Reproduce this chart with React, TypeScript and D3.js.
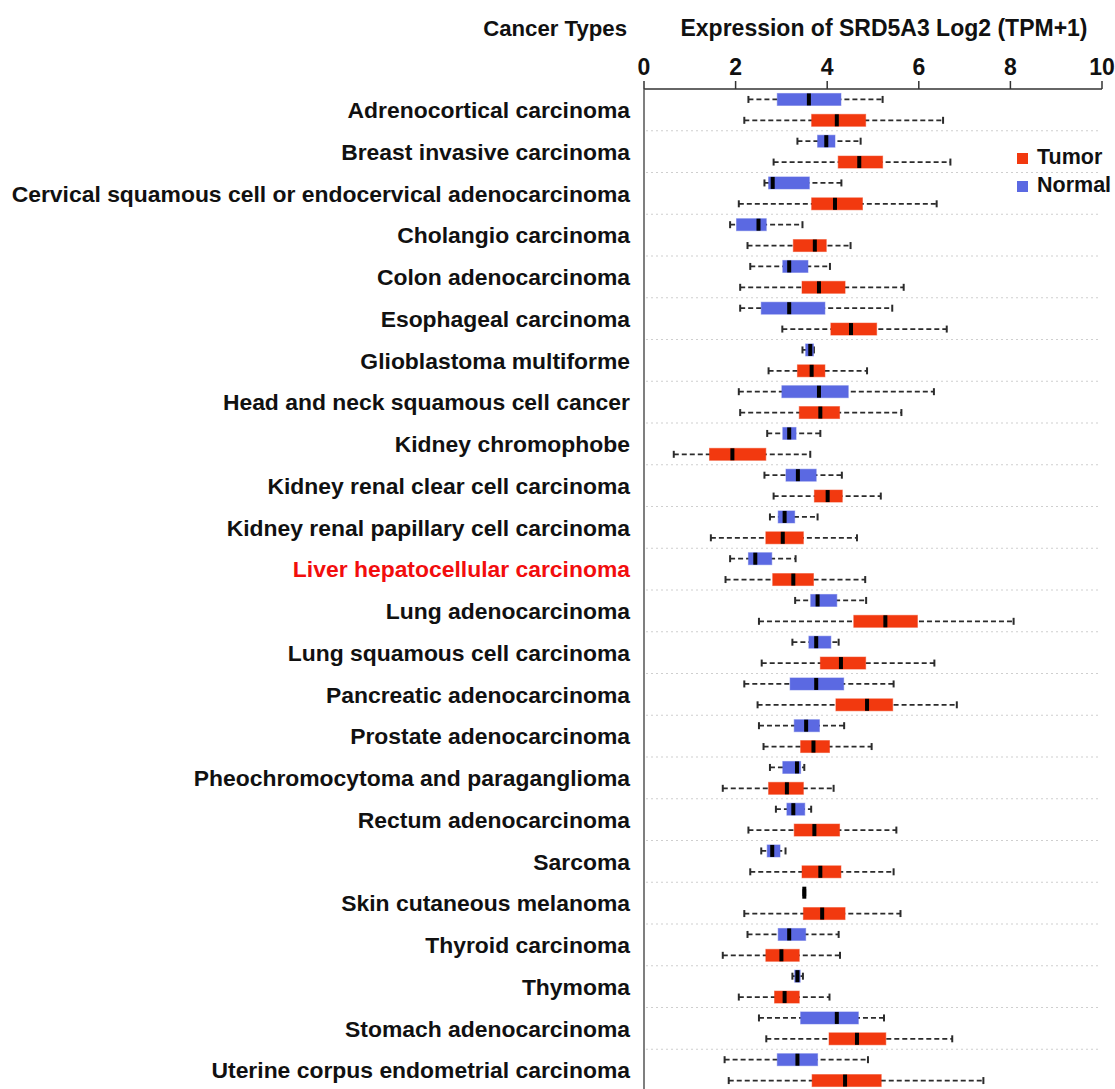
import { scaleBand, scaleLinear, scalePoint } from 'd3'

const categories = [
  'Adrenocortical carcinoma',
  'Breast invasive carcinoma',
  'Cervical squamous cell or endocervical adenocarcinoma',
  'Cholangio carcinoma',
  'Colon adenocarcinoma',
  'Esophageal carcinoma',
  'Glioblastoma multiforme',
  'Head and neck squamous cell cancer',
  'Kidney chromophobe',
  'Kidney renal clear cell carcinoma',
  'Kidney renal papillary cell carcinoma',
  'Liver hepatocellular carcinoma',
  'Lung adenocarcinoma',
  'Lung squamous cell carcinoma',
  'Pancreatic adenocarcinoma',
  'Prostate adenocarcinoma',
  'Pheochromocytoma and paraganglioma',
  'Rectum adenocarcinoma',
  'Sarcoma',
  'Skin cutaneous melanoma',
  'Thyroid carcinoma',
  'Thymoma',
  'Stomach adenocarcinoma',
  'Uterine corpus endometrial carcinoma',
]

const highlighted = 'Liver hepatocellular carcinoma'

// [lower whisker, q1, median, q3, upper whisker]
const normalStats = [
  [2.28, 2.91, 3.6, 4.3, 5.21],
  [3.35, 3.79, 3.98, 4.17, 4.73],
  [2.63, 2.72, 2.81, 3.61, 4.31],
  [1.88, 2.02, 2.5, 2.67, 3.46],
  [2.32, 3.03, 3.17, 3.58, 4.06],
  [2.1, 2.56, 3.17, 3.95, 5.42],
  [3.46, 3.53, 3.63, 3.7, 3.71],
  [2.07, 3.01, 3.82, 4.46, 6.33],
  [2.69, 3.03, 3.17, 3.32, 3.85],
  [2.63, 3.1, 3.36, 3.76, 4.32],
  [2.75, 2.93, 3.07, 3.29, 3.79],
  [1.88, 2.28, 2.43, 2.79, 3.31],
  [3.3, 3.64, 3.79, 4.21, 4.85],
  [3.24, 3.6, 3.76, 4.08, 4.25],
  [2.19, 3.19, 3.76, 4.36, 5.45],
  [2.51, 3.28, 3.54, 3.83, 4.37],
  [2.75, 3.03, 3.34, 3.42, 3.5],
  [2.88, 3.12, 3.26, 3.51, 3.65],
  [2.56, 2.69, 2.8, 2.97, 3.09],
  [3.48, 3.49, 3.5, 3.51, 3.52],
  [2.26, 2.93, 3.17, 3.53, 4.25],
  [3.24, 3.29, 3.35, 3.41, 3.47],
  [2.51, 3.42, 4.21, 4.68, 5.24],
  [1.76, 2.91, 3.35, 3.79, 4.89],
]

const tumorStats = [
  [2.19, 3.66, 4.21, 4.84, 6.53],
  [2.83, 4.24, 4.7, 5.21, 6.69],
  [2.07, 3.66, 4.17, 4.77, 6.39],
  [2.26, 3.26, 3.73, 3.98, 4.51],
  [2.1, 3.45, 3.82, 4.39, 5.67],
  [3.02, 4.08, 4.52, 5.08, 6.61],
  [2.72, 3.35, 3.66, 3.95, 4.87],
  [2.1, 3.39, 3.85, 4.27, 5.62],
  [0.65, 1.43, 1.93, 2.66, 3.63],
  [2.83, 3.72, 4.01, 4.33, 5.17],
  [1.46, 2.66, 3.03, 3.48, 4.65],
  [1.78, 2.81, 3.26, 3.7, 4.83],
  [2.51, 4.58, 5.27, 5.97, 8.07],
  [2.57, 3.85, 4.3, 4.84, 6.34],
  [2.48, 4.19, 4.87, 5.43, 6.83],
  [2.61, 3.42, 3.7, 4.05, 4.97],
  [1.72, 2.72, 3.12, 3.48, 4.14],
  [2.28, 3.28, 3.72, 4.27, 5.51],
  [2.32, 3.45, 3.85, 4.3, 5.45],
  [2.19, 3.48, 3.89, 4.39, 5.6],
  [1.72, 2.66, 3.0, 3.39, 4.28],
  [2.07, 2.85, 3.07, 3.39, 4.05],
  [2.67, 4.04, 4.65, 5.28, 6.73],
  [1.85, 3.67, 4.39, 5.18, 7.41],
]

const groups = ['Normal', 'Tumor']
const legendItems = ['Tumor', 'Normal']
const xTicks = [0, 2, 4, 6, 8, 10]

const colors: Record<string, string> = {
  Tumor: '#f2390f',
  Normal: '#5b69e2',
}

const width = 1115
const height = 1089
const font = '"Liberation Sans", Arial, Helvetica, sans-serif'

const plotLeft = 644
const plotRight = 1102
const axisY = 89
const rowStep = 41.75
const boxHeight = 12

export default function App() {
  const xScale = scaleLinear().domain([0, 10]).range([plotLeft, plotRight])

  const yScale = scaleBand<string>()
    .domain(categories)
    .range([axisY, axisY + rowStep * categories.length])

  const groupScale = scalePoint<string>()
    .domain(groups)
    .range([0, yScale.bandwidth()])
    .padding(0.5)

  const rows = categories.flatMap((category, index) =>
    groups.map((group) => ({
      category,
      group,
      stats: group === 'Normal' ? normalStats[index] : tumorStats[index],
    })),
  )

  return (
    <div style={{ position: 'absolute', left: 0, top: 0 }}>
      <svg
        width={width}
        height={height}
        viewBox={`0 0 ${width} ${height}`}
        style={{ display: 'block', background: '#fff' }}
        fontFamily={font}
        fontWeight="bold"
      >
        <text x={627} y={36} fontSize={22.2} textAnchor="end" fill="#111">
          Cancer Types
        </text>
        <text x={884} y={36} fontSize={23} textAnchor="middle" fill="#111">
          Expression of SRD5A3 Log2 (TPM+1)
        </text>

        {categories.slice(1).map((category) => (
          <line
            key={`${category}-sep`}
            x1={plotLeft + 2}
            x2={plotRight - 2}
            y1={yScale(category) ?? 0}
            y2={yScale(category) ?? 0}
            stroke="#cfcfcf"
            strokeWidth={1}
            strokeDasharray="2 3"
          />
        ))}

        {/* top axis */}
        <line x1={plotLeft} x2={plotRight} y1={axisY} y2={axisY} stroke="#333" strokeWidth={1.5} />
        <line x1={plotLeft} x2={plotLeft} y1={axisY} y2={height} stroke="#555" strokeWidth={1.5} />
        {xTicks.map((tick) => (
          <g key={`tick-${tick}`}>
            <line
              x1={xScale(tick)}
              x2={xScale(tick)}
              y1={axisY - 8}
              y2={axisY}
              stroke="#333"
              strokeWidth={1.5}
            />
            <text x={xScale(tick)} y={75} fontSize={23} textAnchor="middle" fill="#111">
              {tick}
            </text>
          </g>
        ))}

        {categories.map((category) => (
          <text
            key={`${category}-label`}
            x={630}
            y={(yScale(category) ?? 0) + yScale.bandwidth() / 2}
            dy="0.36em"
            fontSize={22.9}
            textAnchor="end"
            fill={category === highlighted ? '#f20d0d' : '#111'}
          >
            {category}
          </text>
        ))}

        {rows.map(({ category, group, stats }) => {
          const cy = (yScale(category) ?? 0) + (groupScale(group) ?? 0)
          const [lo, q1, med, q3, hi] = stats
          const boxWidth = xScale(q3) - xScale(q1)

          return (
            <g key={`${category}-${group}`}>
              <line
                x1={xScale(lo)}
                x2={xScale(hi)}
                y1={cy}
                y2={cy}
                stroke="#2b2b2b"
                strokeWidth={1.8}
                strokeDasharray="5 3"
              />
              <line x1={xScale(lo)} x2={xScale(lo)} y1={cy - 3.5} y2={cy + 3.5} stroke="#2b2b2b" strokeWidth={2} />
              <line x1={xScale(hi)} x2={xScale(hi)} y1={cy - 3.5} y2={cy + 3.5} stroke="#2b2b2b" strokeWidth={2} />
              {boxWidth > 1.5 && (
                <rect
                  x={xScale(q1)}
                  y={cy - boxHeight / 2}
                  width={boxWidth}
                  height={boxHeight}
                  fill={colors[group]}
                  stroke={colors[group]}
                  strokeOpacity={0.5}
                  strokeWidth={1}
                />
              )}
              <rect
                x={xScale(med) - 2}
                y={cy - boxHeight / 2}
                width={4}
                height={boxHeight}
                fill="#000"
              />
            </g>
          )
        })}

        {legendItems.map((item, index) => (
          <g key={`legend-${item}`} transform={`translate(1017, ${153 + index * 28})`}>
            <rect width={11} height={11} fill={colors[item]} />
            <text x={20} y={11} fontSize={21.5} fill="#111">
              {item}
            </text>
          </g>
        ))}
      </svg>
    </div>
  )
}
